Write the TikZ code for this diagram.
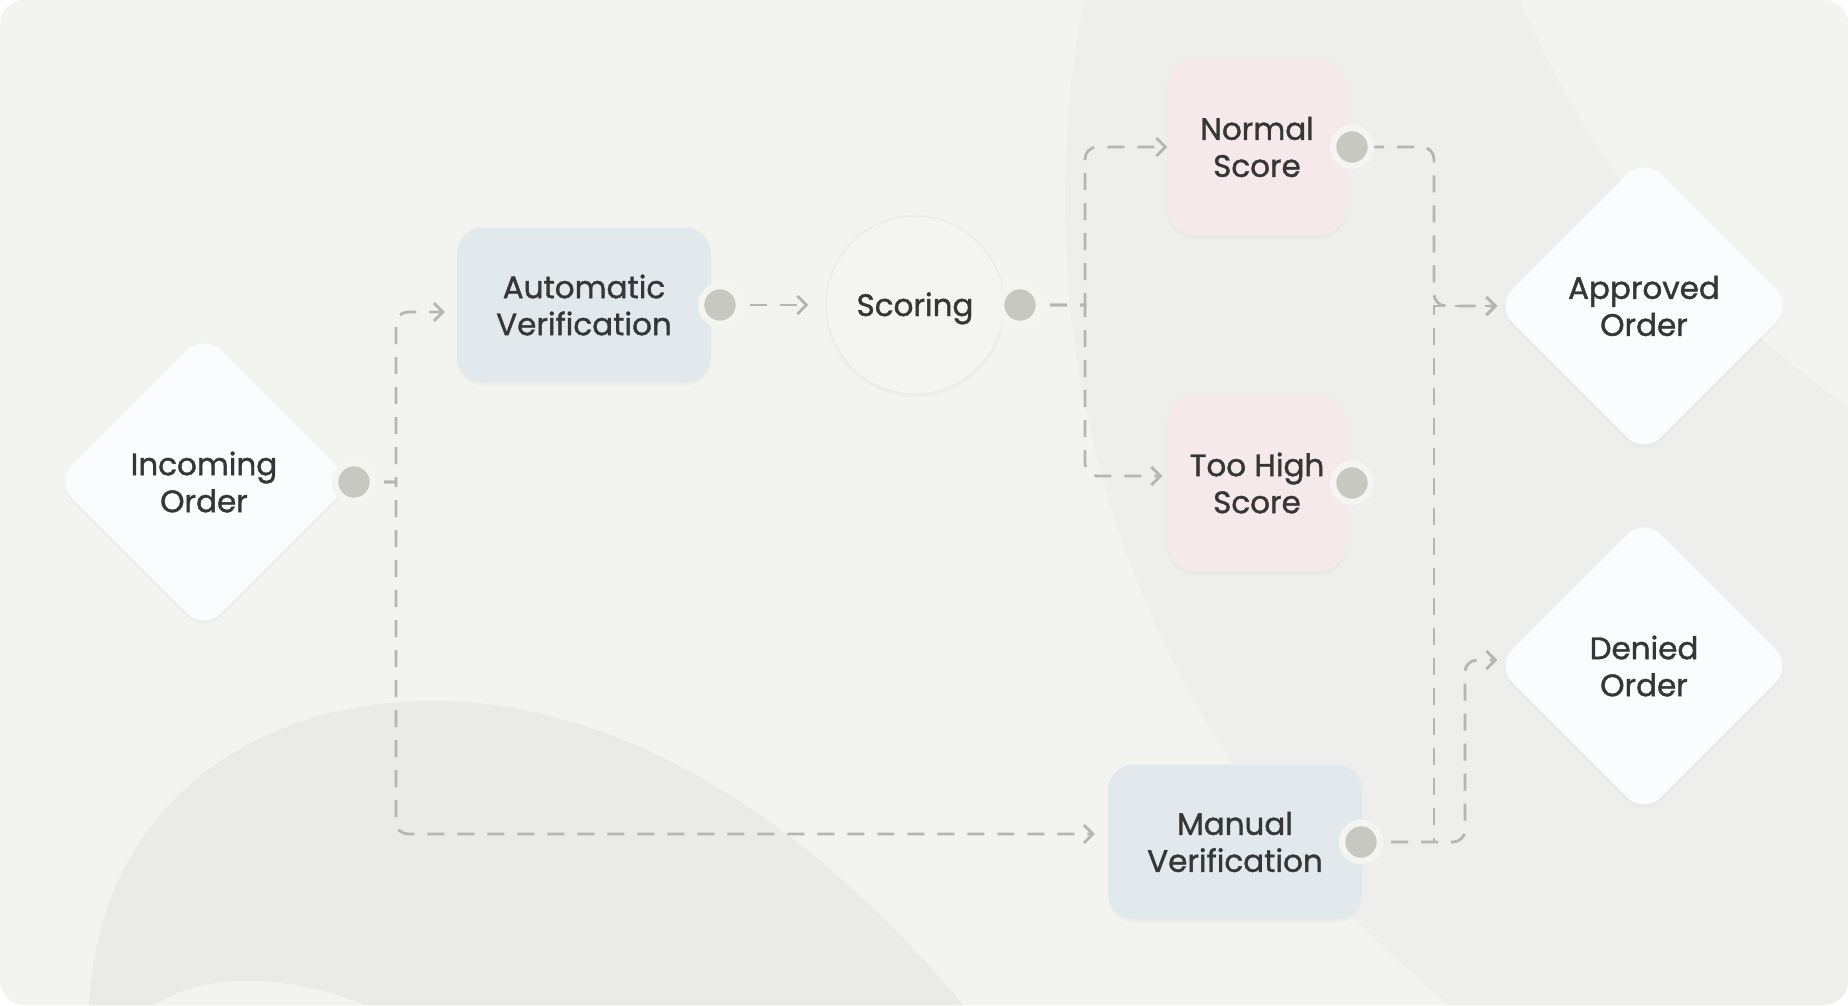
\documentclass[tikz,border=0pt]{standalone}
\usepackage{fontspec}
\setmainfont{Poppins}[FakeBold=1.2]
\usetikzlibrary{arrows.meta,positioning,calc,shapes.geometric,shadows,backgrounds}
\definecolor{canvasbg}{HTML}{F3F3EF}
\definecolor{blobdark}{HTML}{EEEEEC}
\definecolor{blobmid}{HTML}{EAEAE8}
\definecolor{boxblue}{HTML}{E1E9EC}
\definecolor{boxpink}{HTML}{F5E9EB}
\definecolor{diawhite}{HTML}{FBFCFE}
\definecolor{hubfill}{HTML}{F4F4F1}
\definecolor{hubrim}{HTML}{EBEBE7}
\definecolor{linegray}{HTML}{B5B5B3}
\definecolor{portgray}{HTML}{C8C8C2}
\definecolor{portring}{HTML}{F4F4F0}
\definecolor{inktext}{HTML}{363636}
\tikzset{
  soft/.style={drop shadow={shadow xshift=0pt,shadow yshift=-3pt,opacity=0.05}},
  proc/.style={rounded corners=26pt,fill=boxblue,minimum width=254pt,minimum height=155pt,inner sep=0pt,align=center,soft},
  pinkbox/.style={rounded corners=28pt,fill=boxpink,minimum width=179pt,minimum height=177pt,inner sep=0pt,align=center,soft},
  gate/.style={diamond,aspect=1,minimum width=297pt,minimum height=297pt,inner sep=0pt,rounded corners=24pt,fill=diawhite,align=center,soft},
  hub/.style={circle,minimum size=178pt,inner sep=0pt,fill=hubfill,draw=hubrim,line width=1.5pt,text height=22pt,text depth=0pt,soft},
  portdot/.style={circle,fill=portgray,draw=portring,line width=6.5pt,minimum size=38pt,inner sep=0pt},
  flow/.style={draw=linegray,line width=2.8pt,dash pattern=on 17pt off 13pt,-{Straight Barb[length=9pt,width=18pt]}},
}
\begin{document}
\begin{tikzpicture}[x=1pt,y=-1pt,font=\fontsize{31}{37}\selectfont,text=inktext]
  \useasboundingbox (0,0) rectangle (1848,1005);
  % canvas and the big soft blobs
  \begin{scope}[on background layer]
    \fill[white] (0,0) rectangle (1848,1005);
    \fill[canvasbg,rounded corners=24pt] (0,0) rectangle (1848,1005);
    \clip[rounded corners=24pt] (0,0) rectangle (1848,1005);
    \fill[blobdark] (2100,200) circle[radius=1035];
    \fill[canvasbg] (2391,-367) circle[radius=945];
    \fill[blobmid] (89,1005) .. controls (100,800) and (260,700) .. (434,701)
      .. controls (620,701) and (810,820) .. (963,1005) -- cycle;
    \fill[canvasbg] (153,1005) .. controls (190,985) and (215,981) .. (246,981)
      .. controls (290,981) and (330,990) .. (364,1005) -- cycle;
  \end{scope}

  \node[gate] (inc) at (204,482) {Incoming\\Order};
  \node[proc] (auto) at (584,305) {Automatic\\Verification};
  \node[hub] (score) at (915,305) {Scoring};
  \node[pinkbox] (normal) at (1257,147) {Normal\\Score};
  \node[pinkbox] (high) at (1257,483) {Too High\\Score};
  \node[proc] (manual) at (1235,842) {Manual\\Verification};
  \node[gate] (appr) at (1644,306) {Approved\\Order};
  \node[gate] (deny) at (1644,666) {Denied\\Order};

  % ports
  \node[portdot] (incp) at (354,482) {};
  \node[portdot] (autop) at (720,305) {};
  \node[portdot] (scorep) at (1020,305) {};
  \node[portdot] (normalp) at (1352,147) {};
  \node[portdot] (highp) at (1352,483) {};
  \node[portdot] (manualp) at (1361,842) {};

  % arrow ends
  \coordinate (autoin) at ([xshift=-12pt,yshift=-7pt]auto.west);
  \coordinate (manin) at ([xshift=-13pt,yshift=8pt]manual.west);
  \coordinate (highin) at ([xshift=-5pt,yshift=7pt]high.west);
  \coordinate (apprin) at ([xshift=2pt]appr.west);
  \coordinate (denyin) at ([xshift=2pt,yshift=6pt]deny.west);

  \begin{scope}[on background layer]
    \draw[flow] (incp.center) -- ++(42,0) coordinate (j1) [rounded corners=12pt] -- (j1 |- autoin) -- (autoin);
    \draw[flow] (incp.center) -- ++(42,0) coordinate (j1) [rounded corners=12pt] -- (j1 |- manin) -- (manin);
    \draw[flow] (autop.center) -- ([xshift=-17pt]score.west);
    \draw[flow] (scorep.center) -- ++(65,0) coordinate (j2) [rounded corners=12pt] -- (j2 |- normal.west) -- (normal.west);
    \draw[flow] (scorep.center) -- ++(65,0) coordinate (j2) [rounded corners=12pt] -- (j2 |- highin) -- (highin);
    \draw[flow,dash phase=15pt] (normalp.center) [rounded corners=12pt] -- ++(82,0) coordinate (j3) -- (j3 |- apprin) [sharp corners] -- (apprin);
    \draw[flow] (manualp.center) -- ++(73,0) coordinate (j4) -- (j4 |- apprin) -- (apprin);
    \draw[flow] (manualp.center) [rounded corners=12pt] -- ++(104,0) coordinate (j5) -- (j5 |- denyin) -- (denyin);
  \end{scope}
\end{tikzpicture}
\end{document}
